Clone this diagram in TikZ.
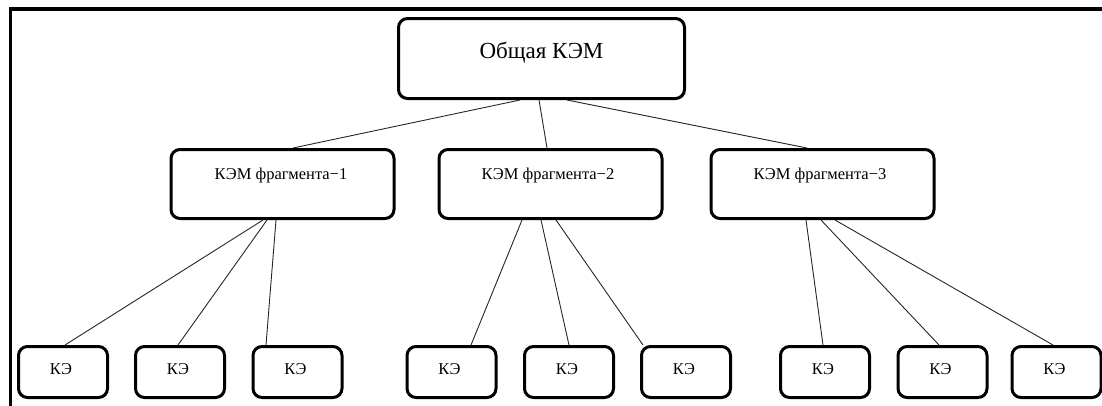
\documentclass[tikz,border=0pt]{standalone}
\usepackage{fontspec}
\setmainfont{Liberation Serif}
\begin{document}
\begin{tikzpicture}[x=1pt,y=-1pt,
  box/.style={draw=black, line width=3pt, rounded corners=9pt, fill=white, inner sep=0pt},
  topbox/.style={box, minimum width=286pt, minimum height=80pt},
  midbox/.style={box, minimum width=223pt, minimum height=69pt},
  leafbox/.style={box, minimum width=89pt, minimum height=51pt},
  bigtext/.style={font=\fontsize{23}{27}\selectfont, inner sep=0pt},
  smalltext/.style={font=\fontsize{16.5}{20}\selectfont, inner sep=0pt},
  link/.style={draw=black!85, line width=0.9pt},
  frameline/.style={line width=3.5pt, line cap=rect}]
\useasboundingbox (0,0) rectangle (1102,405);

% outer frame (top and left edges)
\coordinate (fl) at (10.5,405);
\coordinate (fc) at (10.5,9);
\coordinate (fr) at (1104,9);
\draw[frameline] (fl) -- (fc) -- (fr);

% root
\node[topbox] (top) at (541.5,58.5) {};
\node[bigtext] (toptxt) at (541.5,53) {Общая КЭМ};

% fragment models
\node[midbox] (m1) at (282.5,184) {};
\node[midbox] (m2) at (550.5,184) {};
\node[midbox] (m3) at (822.5,184) {};
\node[smalltext] (m1t) at (281,176) {КЭМ фрагмента−1};
\node[smalltext] (m2t) at (548,176) {КЭМ фрагмента−2};
\node[smalltext] (m3t) at (820,176) {КЭМ фрагмента−3};

% finite elements
\foreach \n/\x in {a/63,b/180,c/297.5,d/451.5,e/569,f/686,g/825,h/942.5,i/1056.5}{
  \node[leafbox] (\n) at (\x,372) {};
  \node[smalltext] (\n t) at (\x-2,369) {КЭ};
}

% root -> fragments
\draw[link] ([xshift=-21.5pt]top.south) -- ([xshift=10.5pt]m1.north);
\draw[link] ([xshift=-2.5pt]top.south) -- ([xshift=-3.5pt]m2.north);
\draw[link] ([xshift=25.5pt]top.south) -- ([xshift=-15.5pt]m3.north);

% fragment 1 -> elements
\draw[link] ([xshift=-19.5pt]m1.south) -- ([xshift=2pt]a.north);
\draw[link] ([xshift=-15.5pt]m1.south) -- ([xshift=-2pt]b.north);
\draw[link] ([xshift=-6.5pt]m1.south) -- ([xshift=-31.5pt]c.north);

% fragment 2 -> elements
\draw[link] ([xshift=-28.5pt]m2.south) -- ([xshift=19.5pt]d.north);
\draw[link] ([xshift=-9.5pt]m2.south) -- (e.north);
\draw[link] ([xshift=5.5pt]m2.south) -- ([xshift=-43pt]f.north);

% fragment 3 -> elements
\draw[link] ([xshift=-16.5pt]m3.south) -- ([xshift=-2pt]g.north);
\draw[link] ([xshift=-1.5pt]m3.south) -- ([xshift=-3.5pt]h.north);
\draw[link] ([xshift=12.5pt]m3.south) -- ([xshift=-3.5pt]i.north);
\end{tikzpicture}
\end{document}
